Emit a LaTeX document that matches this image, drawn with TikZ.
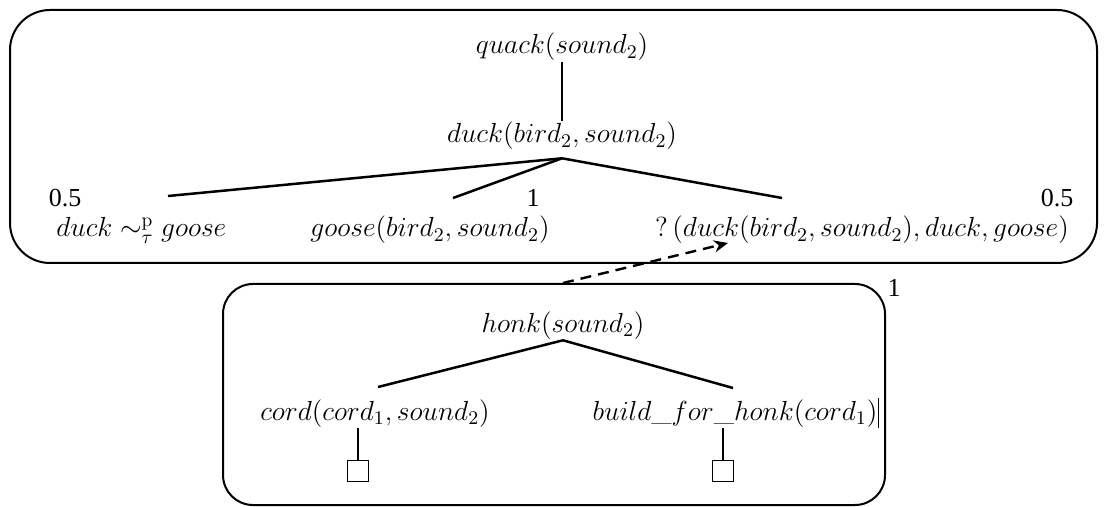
\RequirePackage{fix-cm}
\documentclass[tikz,border=0pt]{standalone}
\usepackage{fontspec}
\newfontfamily\numfont{Liberation Serif}
\usetikzlibrary{arrows.meta,calc}
\tikzset{
  term/.style={inner sep=0.5pt, font=\fontsize{13.8}{16}\selectfont},
  weight/.style={inner sep=0pt, font=\numfont\fontsize{13}{15}\selectfont},
  branch/.style={line width=1.25pt},
  frame/.style={draw, line width=1pt},
  leaf/.style={draw, line width=0.8pt, minimum size=10.5pt, inner sep=0pt},
  link/.style={line width=1.2pt, dashed, dash pattern=on 5.5pt off 3.5pt, -{Stealth[length=7pt,width=6pt]}},
}
\begin{document}
\begin{tikzpicture}[x=0.5pt,y=-0.5pt]
\useasboundingbox (0,0) rectangle (1106,507);
\fill[white] (0,0) rectangle (1106,507);

% the two frames
\node[frame, rounded corners=20pt, minimum width=543.5pt, minimum height=126.5pt] (outer) at (553.5,136.5) {};
\node[frame, rounded corners=15pt, minimum width=331pt, minimum height=110.5pt] (inner) at (554,394.5) {};

% outer tree
\node[term, anchor=base] (quack) at (562,54) {$quack(sound_2)$};
\node[term, anchor=base] (root) at (562,143) {$duck(bird_2, sound_2)$};
\node[term, anchor=base west] (sim) at (55,237) {$duck \sim^{\mathrm{p}}_{\tau} goose$};
\node[term, anchor=base] (goose) at (430,237) {$goose(bird_2, sound_2)$};
\node[term, anchor=base] (query) at (862,237) {$?\,(duck(bird_2, sound_2), duck, goose)$};

\node[weight, anchor=base] (w1) at (65,207) {0.5};
\node[weight, anchor=base] (w2) at (533,207) {1};
\node[weight, anchor=base] (w3) at (1057,207) {0.5};
\node[weight, anchor=base] (w4) at (894,297) {1};

\coordinate (e1) at (168,196);
\coordinate (e2) at (453,198);
\coordinate (e3) at (782,198);

\draw[branch] (quack.south) -- (root.north);
\draw[branch] ($(root.south)+(0,7)$) -- (e1);
\draw[branch] ($(root.south)+(0,7)$) -- (e2);
\draw[branch] ($(root.south)+(0,7)$) -- (e3);

% inner tree
\node[term, anchor=base] (honk) at (563,332) {$honk(sound_2)$};
\node[term, anchor=base] (cord) at (375,420) {$cord(cord_1, sound_2)$};
\node[term, anchor=base] (build) at (735,420) {$build\_for\_honk(cord_1)$};
\node[leaf] (sq1) at (358,471) {};
\node[leaf] (sq2) at (723,471) {};

\coordinate (h1) at (378,387);
\coordinate (h2) at (733,388);

\draw[branch] (honk.south) -- (h1);
\draw[branch] (honk.south) -- (h2);
\draw[branch] (sq1.north |- cord.south) -- (sq1.north);
\draw[branch] (sq2.north |- build.south) -- (sq2.north);
\draw[line width=0.4pt] (build.north east) -- (build.south east);

% link from the inner frame up to the query term
\coordinate (tip) at (728,243);
\draw[link] (honk |- inner.north) -- (tip);
\end{tikzpicture}
\end{document}
